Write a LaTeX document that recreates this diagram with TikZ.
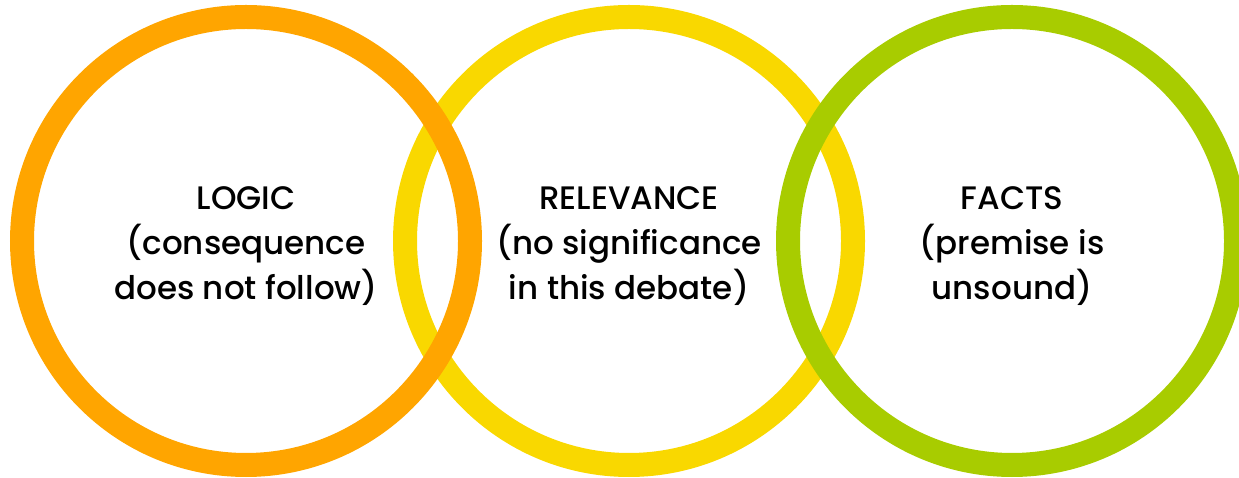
\documentclass[tikz,border=0pt]{standalone}
\usepackage{fontspec}
\setmainfont{Poppins}[UprightFont={* Medium}]
\definecolor{ringorange}{HTML}{FFA500}
\definecolor{ringyellow}{HTML}{F9D800}
\definecolor{ringgreen}{HTML}{A8CC00}
\begin{document}
\begin{tikzpicture}[node distance=7.66cm]
\tikzstyle{ring} = [circle, minimum size=8.96cm, line width=0.48cm]
\tikzstyle{caption} = [align=center, yshift=-0.1cm, font=\fontsize{18.5}{25.5}\selectfont]
\useasboundingbox (0,0) rectangle (24.78,9.56);
% yellow first, the other two lie over it
\node (relevance)[ring, draw=ringyellow] at (12.58,4.74) {};
\node (logic)[ring, draw=ringorange, left of=relevance] {};
\node (facts)[ring, draw=ringgreen, right of=relevance] {};
\node (relevancetext)[caption] at (relevance) {RELEVANCE\\(no significance\\in this debate)};
\node (logictext)[caption] at (logic) {LOGIC\\(consequence\\does not follow)};
\node (factstext)[caption] at (facts) {FACTS\\(premise is\\unsound)};
\end{tikzpicture}
\end{document}
